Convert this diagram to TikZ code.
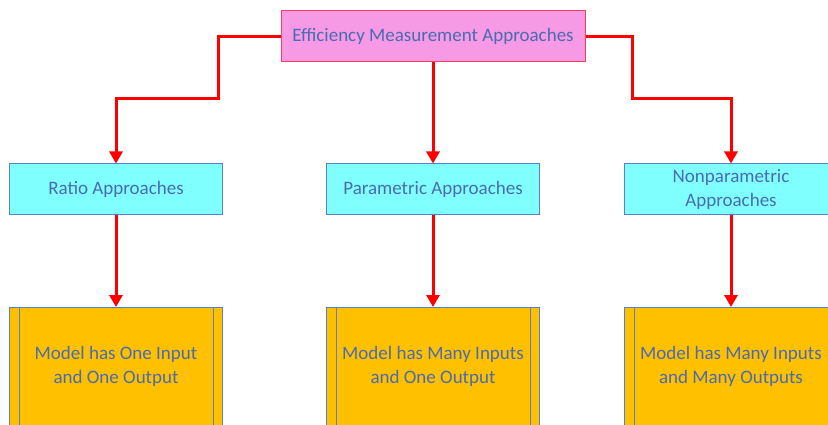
\documentclass[tikz,border=0pt]{standalone}
\usepackage{fontspec}
\setmainfont{Carlito}
\usepackage{tikz}
\usetikzlibrary{positioning, arrows.meta, shapes}

\definecolor{titlefill}{HTML}{F79AE6}
\definecolor{titleline}{HTML}{FF3E5E}
\definecolor{kindfill}{HTML}{80FFFF}
\definecolor{modelfill}{HTML}{FFC000}
\definecolor{boxline}{HTML}{5A7FCC}
\definecolor{labeltext}{HTML}{4A6BB0}
\definecolor{linkred}{HTML}{FF0000}

\tikzset{
    titlebox/.style={draw=titleline, fill=titlefill, line width=1pt, minimum width=304pt, minimum height=51pt, inner sep=0pt},
    kindbox/.style={draw=boxline, fill=kindfill, line width=1pt, minimum width=213pt, minimum height=51pt, inner sep=0pt, align=center},
    modelbox/.style={draw=boxline, fill=modelfill, line width=1pt, minimum width=213pt, minimum height=118pt, inner sep=0pt, align=center},
    link/.style={draw=linkred, line width=3pt, -{Triangle[width=13pt,length=12pt]}}
}

\begin{document}
\begin{tikzpicture}[x=1pt, y=1pt, font=\fontsize{19}{24}\selectfont, text=labeltext]
        \useasboundingbox (0,0) rectangle (828,-425);
        \clip (0,0) rectangle (828,-425);
        % Nodes
        \node (top) [titlebox] at (433,-36.5) {Efficiency Measurement Approaches};
        \node (param) [kindbox, below of=top, node distance=153pt] {Parametric Approaches};
        \node (ratio) [kindbox, left of=param, node distance=317pt] {Ratio Approaches};
        \node (nonparam) [kindbox, right of=param, node distance=298pt] {Nonparametric\\Approaches};
        \node (modelB) [modelbox, below of=param, node distance=177pt] {Model has Many Inputs\\and One Output};
        \node (modelA) [modelbox, below of=ratio, node distance=177pt] {Model has One Input\\and One Output};
        \node (modelC) [modelbox, below of=nonparam, node distance=177pt] {Model has Many Inputs\\and Many Outputs};
        
        % Side bars of the model boxes
        \foreach \m in {modelA, modelB, modelC} {
            \draw[boxline, line width=1pt] ([xshift=10pt]\m.north west) -- ([xshift=10pt]\m.south west);
            \draw[boxline, line width=1pt] ([xshift=-10pt]\m.north east) -- ([xshift=-10pt]\m.south east);
        }
        
        % Bends
        \coordinate (leftbend) at (218,-99);
        \coordinate (rightbend) at (632,-99);
        
        % Arrows
        \draw[link] (top.west) -| (leftbend) -| (ratio.north);
        \draw[link] (top.south) -- (param.north);
        \draw[link] (top.east) -| (rightbend) -| (nonparam.north);
        \draw[link] (ratio.south) -- (modelA.north);
        \draw[link] (param.south) -- (modelB.north);
        \draw[link] (nonparam.south) -- (modelC.north);
    \end{tikzpicture}
\end{document}
